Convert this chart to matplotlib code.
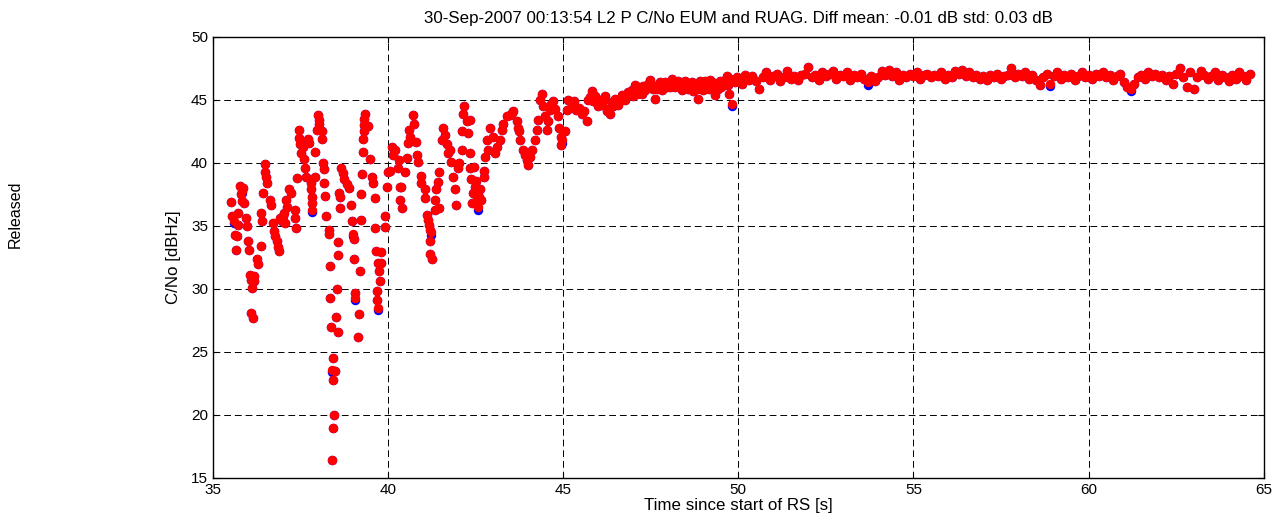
import numpy as np
import matplotlib
matplotlib.use("Agg")
from matplotlib import pyplot as plt

plt.rcParams['font.family'] = ['Liberation Sans', 'DejaVu Sans']

# RUAG C/No samples, first part (t [s], C/No [dBHz])
t_early = [35.52, 35.54, 35.59, 35.62, 35.65, 35.68, 35.71, 35.72, 35.78, 35.80,
           35.82, 35.84, 35.86, 35.88, 35.95, 35.97, 36.00, 36.03, 36.05, 36.08,
           36.10, 36.12, 36.14, 36.16, 36.18, 36.27, 36.29, 36.36, 36.38, 36.39,
           36.43, 36.48, 36.50, 36.52, 36.54, 36.63, 36.66, 36.72, 36.75, 36.78,
           36.82, 36.86, 36.90, 36.92, 36.96, 37.00, 37.03, 37.06, 37.08, 37.10,
           37.18, 37.22, 37.33, 37.35, 37.38, 37.40, 37.45, 37.47, 37.49, 37.52,
           37.56, 37.60, 37.62, 37.65, 37.70, 37.73, 37.80, 37.81, 37.82, 37.83,
           37.84, 37.90, 37.91, 37.96, 38.00, 38.02, 38.04, 38.10, 38.11, 38.15,
           38.16, 38.18, 38.19, 38.24, 38.30, 38.32, 38.33, 38.34, 38.36, 38.40,
           38.41, 38.42, 38.43, 38.44, 38.46, 38.48, 38.50, 38.55, 38.56, 38.57,
           38.58, 38.60, 38.62, 38.63, 38.67, 38.70, 38.75, 38.82, 38.88, 38.95,
           38.98, 38.99, 39.02, 39.03, 39.05, 39.07, 39.13, 39.17, 39.21, 39.22,
           39.24, 39.25, 39.27, 39.29, 39.30, 39.31, 39.32, 39.33, 39.43, 39.48,
           39.53, 39.57, 39.62, 39.63, 39.65, 39.67, 39.69, 39.70, 39.72, 39.74,
           39.76, 39.79, 39.81, 39.91, 39.92, 39.98, 40.00]
cn_early = [36.9, 35.8, 35.4, 34.3, 33.1, 34.2, 36.0, 35.1, 38.2, 37.5,
            37.8, 37.0, 38.0, 36.8, 35.6, 35.0, 33.8, 33.1, 31.1, 30.7,
            28.1, 30.1, 27.7, 30.6, 31.0, 32.4, 32.0, 33.4, 36.0, 35.4,
            37.6, 39.9, 39.3, 38.9, 38.4, 37.1, 36.7, 35.2, 34.6, 34.2,
            33.8, 33.3, 33.0, 35.6, 35.4, 35.8, 36.0, 35.2, 37.1, 36.5,
            37.9, 37.6, 36.3, 35.6, 34.8, 38.8, 42.6, 42.0, 41.5, 40.8,
            41.3, 40.3, 39.6, 38.9, 41.9, 41.6, 38.4, 37.9, 37.3, 36.8,
            36.3, 40.9, 38.9, 42.6, 43.8, 43.4, 43.1, 42.5, 41.9, 40.0,
            39.5, 38.4, 37.4, 35.8, 34.7, 34.4, 31.8, 29.3, 27.0, 23.6,
            16.4, 19.0, 24.5, 22.8, 20.0, 23.5, 27.8, 30.0, 26.6, 33.7,
            32.7, 37.6, 37.3, 36.4, 39.6, 39.2, 38.7, 38.3, 38.0, 36.7,
            35.4, 34.4, 34.0, 32.4, 29.7, 29.3, 26.2, 28.0, 31.4, 35.5,
            37.5, 39.1, 40.9, 41.9, 42.5, 43.0, 43.5, 43.9, 42.9, 40.3,
            38.9, 38.4, 37.2, 34.8, 33.0, 29.8, 29.1, 28.5, 32.1, 31.4,
            30.6, 32.9, 32.1, 35.8, 34.9, 38.1, 39.3]

# second part: 40 s .. 45 s
t_mid = [40.05, 40.10, 40.15, 40.20, 40.28, 40.31, 40.34, 40.35, 40.37, 40.39,
         40.48, 40.53, 40.58, 40.60, 40.63, 40.70, 40.74, 40.81, 40.82, 40.86,
         40.93, 40.95, 41.05, 41.06, 41.10, 41.15, 41.18, 41.19, 41.20, 41.21,
         41.24, 41.25, 41.34, 41.35, 41.38, 41.43, 41.44, 41.45, 41.55, 41.58,
         41.62, 41.67, 41.72, 41.77, 41.81, 41.86, 41.90, 41.93, 41.99, 42.03,
         42.10, 42.12, 42.15, 42.18, 42.24, 42.29, 42.33, 42.34, 42.35, 42.38,
         42.40, 42.43, 42.45, 42.48, 42.50, 42.52, 42.55, 42.58, 42.60, 42.62,
         42.64, 42.73, 42.75, 42.77, 42.82, 42.85, 42.90, 43.00, 43.05, 43.10,
         43.20, 43.24, 43.29, 43.39, 43.48, 43.53, 43.58, 43.67, 43.72, 43.75,
         43.78, 43.86, 43.91, 43.96, 44.00, 44.05, 44.10, 44.20, 44.24, 44.29,
         44.34, 44.39, 44.43, 44.48, 44.53, 44.58, 44.63, 44.66, 44.72, 44.77,
         44.86, 44.89, 44.93, 44.95, 44.98]
cn_mid = [39.4, 41.3, 40.6, 41.0, 39.6, 40.2, 38.1, 37.1, 38.1, 36.4,
          39.3, 40.4, 41.6, 42.6, 42.1, 43.8, 43.1, 41.7, 40.6, 40.1,
          39.0, 38.4, 37.9, 37.2, 35.9, 35.5, 35.1, 33.8, 32.8, 34.7,
          34.5, 32.4, 36.3, 37.1, 37.9, 38.5, 36.4, 39.3, 41.8, 42.8,
          42.2, 41.5, 40.8, 41.0, 40.1, 38.9, 37.9, 36.7, 39.6, 40.0,
          41.0, 42.5, 43.9, 44.5, 43.3, 42.4, 43.4, 40.8, 39.6, 38.7,
          36.8, 37.6, 39.7, 38.1, 38.6, 37.5, 37.1, 36.5, 37.3, 37.9,
          37.1, 39.4, 38.9, 40.5, 41.8, 41.0, 42.8, 42.1, 40.8, 41.3,
          41.8, 42.6, 43.1, 43.7, 43.8, 44.0, 44.1, 43.3, 42.8, 42.5,
          41.8, 41.0, 40.6, 40.2, 39.8, 40.5, 41.0, 41.8, 42.6, 43.4,
          45.0, 45.5, 44.5, 43.7, 42.6, 43.3, 44.2, 44.7, 44.9, 44.3,
          43.7, 42.8, 42.1, 41.4, 41.8]

# third part: 45 s .. 50 s
t_rise = [45.05, 45.10, 45.15, 45.24, 45.30, 45.38, 45.45, 45.53, 45.60, 45.67,
          45.72, 45.77, 45.81, 45.86, 45.91, 45.95, 46.00, 46.05, 46.10, 46.15,
          46.19, 46.24, 46.29, 46.34, 46.38, 46.43, 46.48, 46.53, 46.57, 46.62,
          46.67, 46.72, 46.76, 46.81, 46.86, 46.91, 46.96, 47.00, 47.05, 47.10,
          47.15, 47.19, 47.24, 47.29, 47.34, 47.39, 47.43, 47.48, 47.53, 47.57,
          47.62, 47.67, 47.72, 47.77, 47.81, 47.86, 47.91, 47.95, 48.00, 48.05,
          48.10, 48.15, 48.19, 48.24, 48.29, 48.33, 48.38, 48.43, 48.48, 48.53,
          48.57, 48.62, 48.67, 48.72, 48.77, 48.81, 48.86, 48.91, 48.95, 49.00,
          49.05, 49.10, 49.15, 49.19, 49.24, 49.29, 49.34, 49.38, 49.43, 49.48,
          49.52, 49.57, 49.62, 49.67, 49.71, 49.74, 49.77, 49.81, 49.85, 49.90,
          49.95]
cn_rise = [42.5, 44.2, 45.0, 44.6, 44.9, 44.2, 44.4, 43.9, 44.1, 43.3,
           45.0, 45.2, 45.7, 44.9, 45.3, 44.8, 44.5, 45.0, 44.6, 44.9,
           45.3, 44.1, 44.3, 43.9, 44.8, 44.5, 45.1, 44.7, 44.6, 45.0,
           45.4, 45.1, 45.0, 45.3, 45.6, 45.4, 45.8, 45.3, 46.2, 45.5,
           46.0, 45.8, 45.5, 46.1, 45.8, 46.0, 46.3, 46.6, 46.2, 45.9,
           45.1, 45.9, 46.1, 46.4, 45.8, 46.1, 46.4, 46.0, 46.3, 46.0,
           46.7, 46.4, 46.0, 46.2, 46.5, 46.1, 45.8, 46.2, 46.5, 46.3,
           45.9, 46.1, 46.4, 45.7, 46.2, 45.9, 45.1, 46.5, 46.3, 45.8,
           46.5, 46.1, 45.9, 46.6, 46.4, 46.1, 45.4, 46.3, 45.9, 46.5,
           46.0, 46.3, 46.6, 46.9, 46.2, 45.5, 46.7, 44.7, 46.5, 46.4,
           46.8]

# last part: flat region, one sample every 0.1 s from 50.0 s
t_flat = np.round(np.arange(50.0, 64.65, 0.1), 2)
cn_flat = [46.7, 46.3, 47.0, 46.6, 46.9, 46.5, 45.9, 46.8, 47.2, 46.6,
           46.9, 47.1, 46.5, 46.8, 47.3, 46.7, 46.9, 46.6, 47.0, 47.1,
           47.6, 46.8, 47.0, 46.6, 47.2, 46.9, 47.1, 47.3, 46.7, 47.0,
           46.9, 47.2, 46.6, 47.0, 46.8, 47.1, 46.7, 46.4, 46.9, 46.5,
           46.8, 47.3, 47.0, 47.4, 46.9, 47.2, 46.6, 47.0, 46.8, 47.1,
           46.9, 47.2, 46.7, 47.0, 47.1, 46.8, 47.0, 46.9, 47.2, 46.7,
           47.0, 46.8, 47.3, 47.1, 47.4, 46.9, 47.2, 46.8, 47.0, 46.7,
           46.9, 46.6, 47.0, 46.8, 47.1, 46.7, 46.9, 47.0, 47.5, 46.8,
           47.1, 46.9, 47.2, 46.7, 47.0, 46.6, 46.2, 46.8, 47.1, 46.3,
           46.9, 47.2, 46.7, 47.0, 46.8, 47.1, 46.6, 46.9, 47.2, 46.8,
           47.0, 46.7, 47.1, 46.9, 47.2, 46.8, 47.0, 46.6, 46.9, 47.1,
           46.4, 46.0, 45.9, 46.3, 46.8, 47.0, 46.7, 47.2, 46.9, 47.1,
           46.8, 47.0, 46.6, 46.9, 46.3, 47.1, 47.5, 46.8, 46.0, 47.2,
           45.9, 46.8, 47.3, 47.0, 46.7, 46.9, 47.2, 46.6, 47.0, 46.8,
           46.5, 47.0, 46.7, 47.2, 46.9, 46.6, 47.1]

# where EUM differs visibly from RUAG: (t, EUM C/No)
eum_diff_t = [35.82, 35.59, 37.84, 38.40, 38.99, 39.07, 39.70, 41.24, 42.58,
              44.98, 49.81, 50.00, 53.70, 58.90, 61.20]
eum_diff_cn = [37.6, 35.2, 36.1, 23.4, 34.2, 29.1, 28.3, 34.3, 36.3,
               41.6, 44.5, 46.5, 46.2, 46.1, 45.7]

title = ("30-Sep-2007 00:13:54 L2 P C/No EUM and RUAG. "
         "Diff mean: -0.01 dB std: 0.03 dB")

t_all = np.concatenate([t_early, t_mid, t_rise, t_flat])
ruag = np.concatenate([cn_early, cn_mid, cn_rise, cn_flat])
eum = ruag.copy()
for t, v in zip(eum_diff_t, eum_diff_cn):
    eum[np.argmin(np.abs(t_all - t))] = v

fig = plt.figure(figsize=(12.79, 5.26), dpi=100)
ax = fig.add_axes([0.1665, 0.0913, 0.8215, 0.8384])

ax.plot(t_all, eum, 'o', color='#0000ff', mec='#0000ff', ms=5.8, zorder=3)
ax.plot(t_all, ruag, 'o', color='#ff0000', mec='#ff0000', ms=5.8, zorder=4)

ax.set_xlim(35, 65)
ax.set_ylim(15, 50)
ax.set_xticks(range(35, 66, 5))
ax.set_yticks(range(15, 51, 5))
ax.grid(True, color='k', linestyle=(0, (7, 4)), linewidth=0.7)
ax.tick_params(direction='in', top=True, right=True, length=4, labelsize=11)
for s in ax.spines.values():
    s.set_linewidth(1.0)

ax.set_title(title, fontsize=12.2, pad=10)
ax.set_xlabel("Time since start of RS [s]", fontsize=12.2, labelpad=1)
ax.set_ylabel("C/No [dBHz]", fontsize=12.2, labelpad=7)

fig.text(0.012, 0.593, "Released", rotation=90, fontsize=11.5,
         ha='center', va='center')

fig.savefig("out.png", dpi=100)
